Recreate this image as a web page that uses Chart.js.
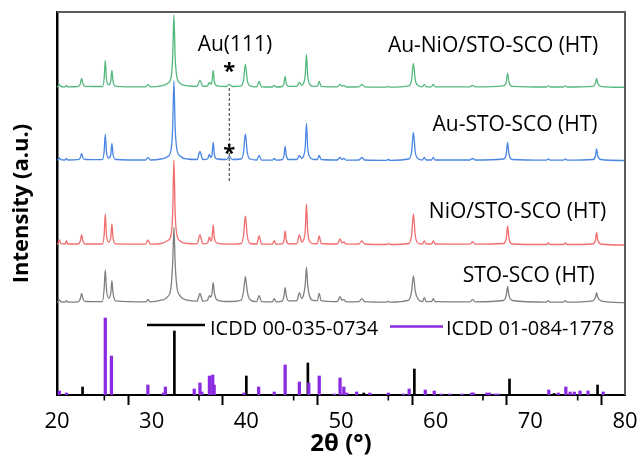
<!DOCTYPE html>
<html>
<head>
<meta charset="utf-8">
<script src="https://cdn.jsdelivr.net/npm/chart.js@4"></script>
<style>
html,body{margin:0;padding:0;background:#fff;}
</style>
</head>
<body>
<canvas id="c" width="639" height="459"></canvas>
<script>
// ---------- DATA ----------
const twoTheta = [
  20, 20.1, 20.25, 20.4, 20.85, 21.0, 21.15,
  22.2, 22.45, 22.6, 22.75, 23.0,
  24.8, 24.98, 25.1, 25.22, 25.45, 25.68, 25.8, 25.92, 26.2,
  29.35, 29.6, 29.85,
  31.0, 31.7, 32.05, 32.22, 32.35, 32.48, 32.65, 33.0, 33.8,
  34.8, 35.1, 35.4, 35.9, 36.1, 36.25, 36.38, 36.5, 36.62, 36.9,
  37.9, 38.2, 38.5,
  39.45, 39.7, 39.9, 40.1, 40.4,
  41.1, 41.35, 41.6,
  42.75, 42.95, 43.15,
  43.8, 43.98, 44.1, 44.22, 44.45,
  45.35, 45.6, 45.85, 46.05, 46.22, 46.35, 46.48, 46.7, 47.1,
  47.5, 47.7, 47.9,
  49.6, 49.9, 50.1, 50.3, 50.55,
  51.9, 52.2, 52.5,
  54.8, 55.0, 55.2,
  57.15, 57.45, 57.65, 57.85, 58.2,
  58.6, 58.8, 59.0, 59.55, 59.75, 59.95,
  63.6, 63.9, 64.2,
  67.15, 67.45, 67.6, 67.75, 68.1,
  71.7, 71.9, 72.1, 73.5, 73.7, 73.9,
  76.6, 76.88, 77.0, 77.12, 77.45, 80
];
// STO-SCO (HT)
const intSTO = [
  0.5, 0.8, 3, 1, 0.5, 2, 0.5,
  0.8, 3.8, 9.4, 3.8, 1.2,
  1, 14, 32.7, 14, 4.5, 9.5, 22, 9.5, 1.8,
  0.8, 3, 0.8,
  2.5, 6, 16, 40, 75.4, 40, 17, 7, 2.5,
  1.5, 9.4, 1.5, 2.5, 7, 5.5, 10, 20, 10, 2.8,
  1.2, 1.2, 1.2,
  2.5, 11, 26, 11, 3,
  1, 7, 1,
  0.8, 4, 0.8,
  1.5, 7, 15, 7, 1.8,
  2, 10, 4, 8, 18, 35.4, 18, 6, 2.2,
  2, 9.4, 2,
  1, 6, 2.5, 3, 0.8,
  1, 4, 1,
  0.5, 1.5, 0.5,
  2.5, 11, 26.7, 11, 3,
  1, 5, 1, 1, 4, 1,
  0.8, 3, 0.8,
  2.2, 7, 16, 7, 2.2,
  0.5, 2, 0.5, 0.5, 2, 0.5,
  1.8, 5.5, 10, 5.5, 1.8, 0
];
// NiO/STO-SCO (HT)
const intNiO = [
  0.5, 1.5, 5, 1.5, 1, 4, 1,
  1, 3.5, 10, 3.5, 1,
  1, 10, 31, 10, 3, 7, 21, 7, 1.2,
  0.8, 5, 0.8,
  1.5, 4.5, 10, 32, 85, 32, 11, 4, 1.5,
  1.2, 10, 1.2, 2, 8, 4, 7, 20, 7, 2,
  0.8, 0.8, 0.8,
  1.5, 9, 29, 9, 1.5,
  1, 9, 1,
  0.8, 4.3, 0.8,
  1.2, 5, 14, 5, 1.2,
  1.5, 10, 3, 5, 14, 41, 14, 3.5, 1.2,
  1.5, 9, 1.5,
  1, 6, 2, 3, 0.8,
  1, 4, 1,
  0.5, 1.5, 0.5,
  1.5, 9, 31, 9, 1.5,
  1, 4, 1, 1, 4, 1,
  0.8, 3, 0.8,
  1.5, 6, 19, 6, 1,
  0.5, 2, 0.5, 0.5, 2, 0.5,
  1, 5, 12.5, 5, 1, 0
];
// Au-STO-SCO (HT)
const intAu = [
  0.5, 0.8, 2.5, 0.8, 0.5, 2, 0.5,
  0.8, 2.5, 7, 2.5, 1,
  0.8, 9, 26, 9, 2.5, 6, 17, 6, 1,
  0.5, 3, 0.5,
  1.5, 4, 11, 33, 79.5, 33, 12, 4.5, 1.5,
  1, 9, 1, 1.5, 6, 3, 6, 18, 6, 1.5,
  1, 4, 1,
  1.5, 8, 26.5, 8, 1.5,
  0.5, 5, 0.5,
  0.3, 2, 0.3,
  0.8, 5, 14, 5, 1,
  1, 5, 2, 4.5, 13, 37, 13, 3.5, 1,
  1, 5, 1,
  0.5, 3, 1, 2, 0.3,
  0.5, 3, 0.5,
  0.2, 1, 0.2,
  1.5, 8, 28, 8, 1.5,
  0.5, 3, 0.5, 0.5, 3, 0.5,
  0.5, 2, 0.5,
  1.5, 6, 18, 6, 1,
  0.3, 1.5, 0.3, 0.3, 1.5, 0.3,
  1, 4.5, 11.5, 4.5, 1, 0
];
// Au-NiO/STO-SCO (HT)
const intAuNiO = [
  0.5, 0.8, 3, 0.8, 0.5, 2, 0.5,
  0.8, 3, 9, 3, 1,
  0.8, 9, 27, 9, 2.5, 6, 17, 6, 1,
  0.5, 3, 0.5,
  1.5, 4, 10, 30, 72.3, 30, 11, 4, 1.5,
  1, 7, 1, 1.5, 5, 3, 6, 17, 6, 1.5,
  0.8, 3, 0.8,
  1.5, 7, 23, 7, 1.5,
  0.5, 6, 0.5,
  0.3, 2, 0.3,
  0.8, 4, 11, 4, 1,
  1, 5, 2, 4, 12, 33, 12, 3, 1,
  1, 6, 1,
  0.5, 3, 1, 2, 0.3,
  0.5, 3, 0.5,
  0.2, 1, 0.2,
  1.5, 7, 24, 7, 1.5,
  0.5, 3, 0.5, 0.5, 3, 0.5,
  0.5, 2, 0.5,
  1.5, 5, 14, 5, 1,
  0.3, 1.5, 0.3, 0.3, 1.5, 0.3,
  1, 4, 9, 4, 1, 0
];
// vertical stacking offsets (a.u.) for STO, NiO, Au, Au-NiO
const stackOffsets = [92.3, 150, 234.5, 307.7];
const seriesNames = ['STO-SCO (HT)', 'NiO/STO-SCO (HT)', 'Au-STO-SCO (HT)', 'Au-NiO/STO-SCO (HT)'];

// reference patterns
const icdd0734Pos = [22.7, 32.4, 40.0, 46.5, 52.4, 57.75, 67.8, 72.5, 77.1];
const icdd0734Int = [8, 64, 19, 32, 2, 26, 16, 1.5, 10];
const icdd1778Pos = [20.25, 21.0, 25.1, 25.75, 29.6, 31.25, 31.45, 34.5, 35.1, 35.3, 36.1, 36.45, 36.6, 39.75,
  41.3, 42.95, 44.1, 45.6, 46.6, 47.7, 49.3, 49.9, 50.3, 50.6, 51.65, 53.05, 55.0, 56.6, 57.2, 58.9, 59.85,
  60.6, 61.5, 62.75, 63.8, 64.0, 65.4, 65.7, 66.3, 66.6, 71.95, 72.95, 73.75, 74.2, 74.65, 75.25, 76.1, 77.7];
const icdd1778Int = [4, 2, 77, 39, 10, 2, 8, 6, 12, 3, 19, 20, 10, 2,
  8, 3, 30, 13, 12, 19, 1, 17, 8, 2, 3, 2, 2, 1, 6, 5, 4,
  1, 1, 1, 2, 2, 2, 2, 1, 1, 5, 2, 8, 3, 3, 4, 4, 3];
const refNames = ['ICDD 00-035-0734', 'ICDD 01-084-1778'];

const xTickLabels = [20, 30, 40, 50, 60, 70, 80];
const xMinorTicks = [25, 35, 45, 55, 65, 75];
const auPeak = 38.2;

// ---------- BUILD ----------
Chart.defaults.font.family = "'Open Sans', 'Noto Sans', sans-serif";
Chart.defaults.color = '#000';

const traceInts = [intSTO, intNiO, intAu, intAuNiO];
const traceColors = ['#808080', '#f26d6d', '#4a86e3', '#55b97e'];

const lineSets = traceInts.map((arr, i) => ({
  type: 'line',
  label: seriesNames[i],
  data: twoTheta.map((t, k) => ({x: t, y: stackOffsets[i] + arr[k]})),
  borderColor: traceColors[i],
  borderWidth: 1.3,
  pointRadius: 0,
  cubicInterpolationMode: 'monotone',
  fill: false,
  order: 1
}));

const stickSets = [
  {pos: icdd1778Pos, val: icdd1778Int, color: '#8a2be2', w: 2.6, name: refNames[1]},
  {pos: icdd0734Pos, val: icdd0734Int, color: '#000000', w: 2, name: refNames[0]}
].map(s => ({
  type: 'bar',
  label: s.name,
  data: s.pos.map((p, k) => ({x: p, y: s.val[k]})),
  backgroundColor: s.color,
  borderWidth: 0,
  barThickness: s.w,
  grouped: false,
  order: 2
}));

const annot = {
  id: 'annot',
  afterDraw(chart) {
    const ctx = chart.ctx;
    const a = chart.chartArea;
    const x = chart.scales.x;
    ctx.save();
    // top & right frame
    ctx.fillStyle = '#5a5a5a';
    ctx.fillRect(a.left, a.top - 1, a.right - a.left + 1, 2);
    ctx.fillRect(a.right - 1, a.top - 1, 2, a.bottom - a.top + 1);
    // minor ticks
    ctx.fillStyle = '#000';
    xMinorTicks.forEach(v => {
      const px = x.getPixelForValue(v);
      ctx.fillRect(px - 0.8, a.bottom, 1.6, 5.5);
    });
    // dashed Au(111) marker
    const ax = x.getPixelForValue(auPeak);
    ctx.strokeStyle = '#555';
    ctx.lineWidth = 1.2;
    ctx.setLineDash([3, 2]);
    ctx.beginPath(); ctx.moveTo(ax, 88); ctx.lineTo(ax, 183); ctx.stroke();
    ctx.setLineDash([]);
    // texts
    ctx.fillStyle = '#000';
    ctx.textAlign = 'center';
    ctx.textBaseline = 'alphabetic';
    ctx.font = "21px 'Open Sans', sans-serif";
    ctx.fillText(seriesNames[3], 493, 51.7);
    ctx.fillText('Au(111)', 235, 51);
    ctx.fillText(seriesNames[2], 515, 131);
    ctx.fillText(seriesNames[1], 517.5, 218.3);
    ctx.fillText(seriesNames[0], 528.7, 281.7);
    ctx.font = "bold 22px 'Open Sans', sans-serif";
    ctx.fillText('*', ax, 78);
    ctx.fillText('*', ax, 160);
    // legend
    ctx.font = "20px 'Open Sans', sans-serif";
    ctx.textAlign = 'left';
    ctx.strokeStyle = '#000'; ctx.lineWidth = 2.5;
    ctx.beginPath(); ctx.moveTo(147, 325); ctx.lineTo(205, 325); ctx.stroke();
    ctx.fillText(refNames[0], 210, 335);
    ctx.strokeStyle = '#8a2be2';
    ctx.beginPath(); ctx.moveTo(390, 326.5); ctx.lineTo(443, 326.5); ctx.stroke();
    ctx.fillText(refNames[1], 446, 335);
    ctx.restore();
  }
};

new Chart(document.getElementById('c'), {
  type: 'line',
  data: {datasets: [...lineSets, ...stickSets]},
  options: {
    responsive: false,
    animation: false,
    layout: {padding: {top: 12, right: 14, left: 0, bottom: 0}},
    plugins: {legend: {display: false}, tooltip: {enabled: false}},
    scales: {
      x: {
        type: 'linear', min: 20, max: 80, offset: false, position: 'bottom',
        afterFit(s) { s.height = 64; s.paddingRight = 0; },
        ticks: {
          stepSize: 5, autoSkip: false, maxRotation: 0, color: '#000',
          font: {size: 22}, padding: 4,
          callback: v => xTickLabels.includes(v) ? String(v) : ''
        },
        grid: {
          display: true, drawOnChartArea: false, drawTicks: true, tickLength: 10, tickWidth: 2,
          tickColor: c => (c.tick && xTickLabels.includes(c.tick.value)) ? '#000' : 'rgba(0,0,0,0)'
        },
        border: {display: true, color: '#000', width: 2},
        title: {display: true, text: '2θ (°)', color: '#000', font: {size: 24, weight: 'bold'}, padding: {top: 0, bottom: 0}}
      },
      y: {
        min: 0, max: 383,
        afterFit(s) { s.width = 57; },
        ticks: {display: false},
        grid: {display: false, drawTicks: false},
        border: {display: true, color: '#000', width: 2.5},
        title: {display: true, text: 'Intensity (a.u.)', color: '#000', font: {size: 22, weight: 'bold'}, padding: {top: 9, bottom: 0}}
      }
    }
  },
  plugins: [annot]
});
</script>
</body>
</html>
